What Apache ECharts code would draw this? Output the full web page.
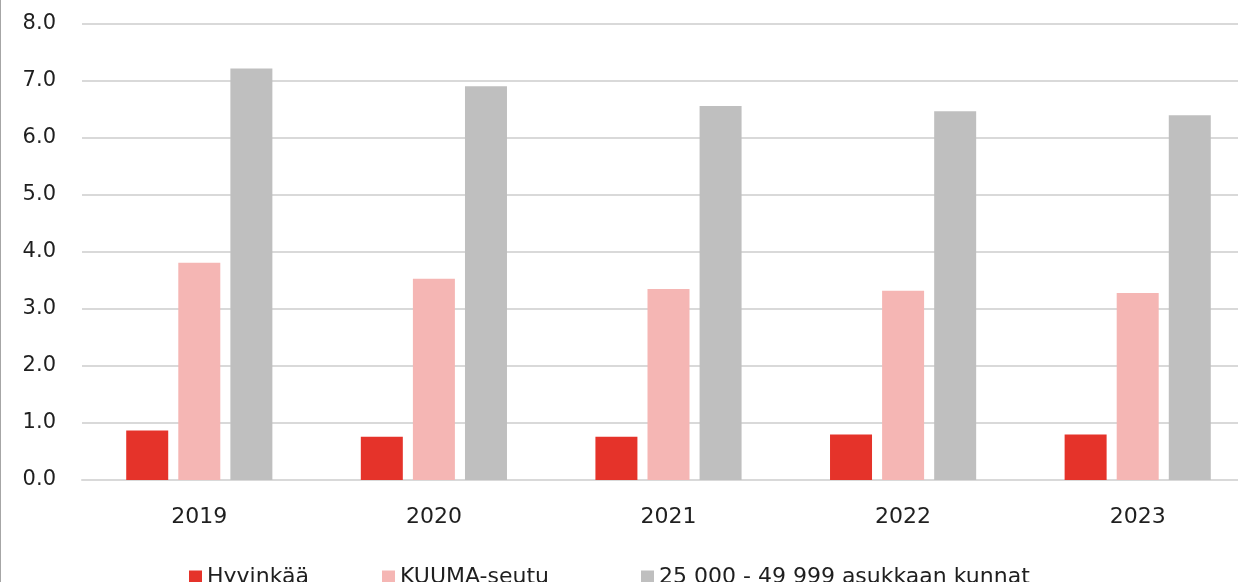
<!DOCTYPE html>
<html>
<head>
<meta charset="utf-8">
<script src="https://cdn.jsdelivr.net/npm/echarts@6/dist/echarts.min.js"></script>
<style>
  html, body { margin: 0; padding: 0; background: #fff; }
  #chart { width: 1238px; height: 582px; }
</style>
</head>
<body>
<div id="chart"></div>
<script>
// vuodet
const years = ['2019', '2020', '2021', '2022', '2023']
// sarjat
const hyvinkaa = [0.87, 0.76, 0.76, 0.80, 0.80]
const kuuma = [3.81, 3.53, 3.35, 3.32, 3.28]
const kunnat = [7.22, 6.91, 6.56, 6.47, 6.40]
const seriesNames = ['Hyvinkää', 'KUUMA-seutu', '25 000 - 49 999 asukkaan kunnat']
const colors = ['#e5332a', '#f5b6b4', '#bfbfbf']

const font = 'DejaVu Sans'
const textColor = '#1f1f1f'
const gridColor = '#d9d9d9'

const chart = echarts.init(document.getElementById('chart'))

const legendLeft = [184, 377, 636]
const legends = seriesNames.map((name, i) => ({
  data: [name],
  left: legendLeft[i],
  top: 561,
  itemWidth: 13,
  itemHeight: 13,
  itemGap: 8,
  icon: 'rect',
  textStyle: { fontFamily: font, fontSize: 22, color: textColor }
}))

const option = {
  backgroundColor: '#fff',
  animation: false,
  color: colors,
  legend: legends,
  // plot area runs a bit past the right edge of the picture
  grid: {
    left: 82,
    top: 24,
    width: 1173,
    height: 456,
    outerBoundsMode: 'none'
  },
  graphic: [
    {
      type: 'line',
      shape: { x1: 0.5, y1: 0, x2: 0.5, y2: 582 },
      style: { stroke: '#a6a6a6', lineWidth: 1 }
    }
  ],
  xAxis: {
    type: 'category',
    data: years,
    axisTick: { show: false },
    axisLine: { lineStyle: { color: gridColor, width: 2 } },
    axisLabel: {
      margin: 26,
      fontFamily: font,
      fontSize: 22,
      color: textColor
    }
  },
  yAxis: {
    type: 'value',
    min: 0,
    max: 8,
    interval: 1,
    axisLine: { show: false },
    axisTick: { show: false },
    splitLine: { lineStyle: { color: gridColor, width: 2 } },
    axisLabel: {
      margin: 26,
      fontFamily: font,
      fontSize: 21,
      color: textColor,
      formatter: v => v.toFixed(1)
    }
  },
  series: [
    { name: seriesNames[0], type: 'bar', data: hyvinkaa, barWidth: 42, barGap: '24%' },
    { name: seriesNames[1], type: 'bar', data: kuuma, barWidth: 42, barGap: '24%' },
    { name: seriesNames[2], type: 'bar', data: kunnat, barWidth: 42, barGap: '24%' }
  ]
}

chart.setOption(option)
</script>
</body>
</html>
